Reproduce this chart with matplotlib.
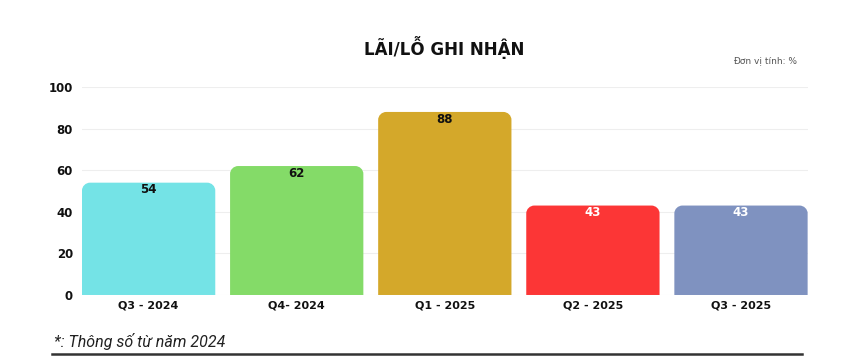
import matplotlib
matplotlib.use("Agg")
import matplotlib.pyplot as plt
from matplotlib.path import Path
from matplotlib.patches import PathPatch
from matplotlib.lines import Line2D

categories = ["Q3 - 2024", "Q4- 2024", "Q1 - 2025", "Q2 - 2025", "Q3 - 2025"]
values = [54, 62, 88, 43, 43]
colors = ["#74E3E6", "#84DB68", "#D4A82A", "#FC3636", "#7F92C0"]
label_colors = ["#111111", "#111111", "#111111", "#FFFFFF", "#FFFFFF"]
yticks = [0, 20, 40, 60, 80, 100]

plt.rcParams['font.family'] = ['DejaVu Sans']

fig = plt.figure(figsize=(8.54, 3.64), dpi=100)
ax = fig.add_axes([0.096, 0.1896, 0.8497, 0.5714])

x = list(range(len(categories)))
bars = ax.bar(x, values, width=0.9, color=colors, zorder=2)
ax.set_xlim(-0.45, len(categories) - 0.55)
ax.set_ylim(0, 100)

# replace rectangles with top-rounded shapes
rx, ry = 0.055, 3.8
for i, (b, c) in enumerate(zip(bars, colors)):
    x0, y0 = b.get_x(), b.get_y()
    w, h = b.get_width(), b.get_height()
    x1, y1 = x0 + w, y0 + h
    k = 0.5523
    verts = [
        (x0, y0), (x0, y1 - ry),
        (x0, y1 - ry + k * ry), (x0 + rx - k * rx, y1), (x0 + rx, y1),
        (x1 - rx, y1),
        (x1 - rx + k * rx, y1), (x1, y1 - ry + k * ry), (x1, y1 - ry),
        (x1, y0), (x0, y0),
    ]
    codes = [Path.MOVETO, Path.LINETO,
             Path.CURVE4, Path.CURVE4, Path.CURVE4,
             Path.LINETO,
             Path.CURVE4, Path.CURVE4, Path.CURVE4,
             Path.LINETO, Path.CLOSEPOLY]
    b.set_visible(False)
    ax.add_patch(PathPatch(Path(verts, codes), facecolor=c, edgecolor='none', zorder=2))
    ax.text(x0 + w / 2, y1 - 3.4, f"{int(h)}", ha='center', va='center',
            fontsize=8.5, fontweight='bold', color=label_colors[i], zorder=3)

ax.set_yticks(yticks)
ax.set_xticks(x)
ax.set_xticklabels(categories)
ax.tick_params(axis='both', length=0, labelsize=8.5, colors='#111111')
ax.tick_params(axis='y', pad=6.5)
ax.tick_params(axis='x', pad=4, labelsize=8)
for lab in ax.get_xticklabels() + ax.get_yticklabels():
    lab.set_fontweight('bold')
ax.grid(axis='y', color='#EEEEEE', linewidth=0.8, zorder=0)
ax.set_axisbelow(True)
for s in ax.spines.values():
    s.set_visible(False)

fig.text(444 / 854, 1 - 48 / 364, "LÃI/LỖ GHI NHẬN", ha='center', va='center',
         fontsize=12, fontweight='bold', color='#111111')
fig.text(797 / 854, 1 - 61 / 364, "Đơn vị tính: %", ha='right', va='center',
         fontsize=6.5, color='#555555')
fig.text(54 / 854, 1 - 341 / 364, "*: Thông số từ năm 2024", ha='left', va='center',
         fontsize=11.5, style='italic', color='#222222',
         family=['Roboto', 'DejaVu Sans'])
fig.add_artist(Line2D([52 / 854, 802 / 854], [1 - 354 / 364, 1 - 354 / 364],
                      transform=fig.transFigure, color='#333333', linewidth=1.8))

fig.savefig("out.png", dpi=100)
